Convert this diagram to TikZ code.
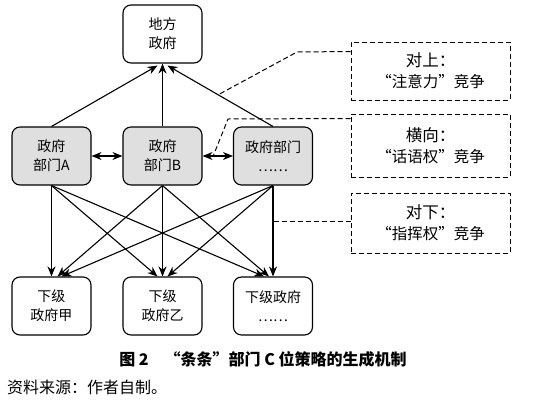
\documentclass[tikz,border=0pt]{standalone}
\usepackage{fontspec}
\setmainfont{Noto Sans CJK SC}
\usetikzlibrary{arrows.meta,calc}
\tikzset{
  box/.style={draw,line width=1.1pt,rounded corners=8pt,minimum width=79pt,minimum height=58pt,align=center,font=\fontsize{14}{19}\selectfont,inner sep=1pt},
  dept/.style={box,fill=gray!25},
  note/.style={draw,dash pattern=on 5pt off 3pt,line width=1pt,minimum width=159pt,align=center,font=\fontsize{15.5}{21}\selectfont,inner sep=1pt},
  arr/.style={line width=1.1pt,-{Stealth[length=10pt,width=8pt]}},
  darr/.style={line width=1.1pt,{Stealth[length=10pt,width=8pt]}-{Stealth[length=10pt,width=8pt]}},
  link/.style={line width=1pt,dash pattern=on 5pt off 3pt}
}
\begin{document}
\begin{tikzpicture}[x=1pt,y=-1pt]
\useasboundingbox (0,0) rectangle (544,405);
\node[box] (top) at (162.5,34) {地方\\政府};
\node[dept] (A) at (51.5,156) {政府\\部门A};
\node[dept] (B) at (162.5,156) {政府\\部门B};
\node[dept] (C) at (273,156) {政府部门\\……};
\node[box] (a) at (51.5,306) {下级\\政府甲};
\node[box] (b) at (162.5,306) {下级\\政府乙};
\node[box] (c) at (273,306) {下级政府\\……};
\node[note,minimum height=58pt] (n1) at (430.5,71) {{\fontsize{16.5}{21}\selectfont 对上：}\\“注意力”竞争};
\node[note,minimum height=63pt] (n2) at (430.5,145.5) {{\fontsize{16.5}{21}\selectfont 横向：}\\“话语权”竞争};
\node[note,minimum height=60pt] (n3) at (430.5,223) {{\fontsize{16.5}{21}\selectfont 对下：}\\“指挥权”竞争};
% upward
\draw[arr] (A.north) -- ($(top.south)+(-5,2)$);
\draw[arr] (B.north) -- (top.south);
\draw[arr] (C.north) -- coordinate[pos=0.52] (m1) ($(top.south)+(5,2)$);
% horizontal
\draw[darr] (A.east) -- (B.west);
\draw[darr] (B.east) -- coordinate[pos=0.35] (m2) (C.west);
% downward
\draw[arr] (A.south) -- (a.north);
\draw[arr] (A.south) -- ($(b.north)+(-5,0)$);
\draw[arr] (A.south) -- ($(c.north)+(-9,0)$);
\draw[arr] (B.south) -- ($(a.north)+(6,0)$);
\draw[arr] (B.south) -- (b.north);
\draw[arr] (B.south) -- ($(c.north)+(-4,0)$);
\draw[arr] (C.south) -- ($(a.north)+(10,0)$);
\draw[arr] (C.south) -- ($(b.north)+(5,0)$);
\draw[arr] (C.south) -- coordinate[pos=0.4] (m3) (c.north);
% dashed links
\draw[link] ($(n1.north west)+(0,10)$) -- (297,52) -- (m1);
\draw[link] ($(n2.north west)+(0,5)$) -- (228,119) -- (m2);
\draw[link] (n3.west |- m3) -- (m3);
% caption
\node[font=\fontsize{16}{18}\selectfont\bfseries] (cap) at (263,359) {图 2\quad “条条”部门 C 位策略的生成机制};
\node[anchor=west,font=\fontsize{16}{18}\selectfont,inner sep=0pt] (src) at (7,387) {资料来源：作者自制。};
\end{tikzpicture}
\end{document}
